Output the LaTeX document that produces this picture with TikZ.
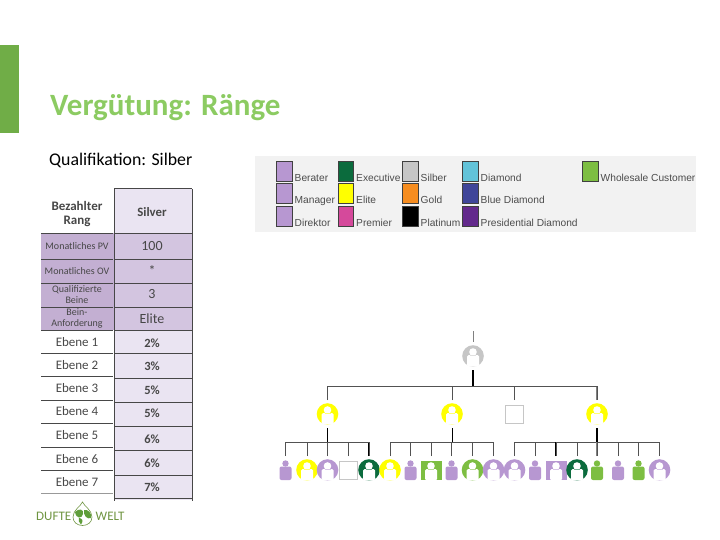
\documentclass[tikz,border=0pt]{standalone}
\usepackage{fontspec}
\setmainfont{Carlito}
\newfontfamily\legendfont{Liberation Sans}
\usetikzlibrary{calc}
\definecolor{PBar}{HTML}{70AD47}
\definecolor{PTitle}{HTML}{8CCB62}
\definecolor{PLegendBg}{HTML}{F2F2F2}
\definecolor{PBerater}{HTML}{B797D1}
\definecolor{PExec}{HTML}{0B6B3D}
\definecolor{PSilber}{HTML}{C6C6C6}
\definecolor{PDiamond}{HTML}{62C3D9}
\definecolor{PWhole}{HTML}{7DBE42}
\definecolor{PElite}{HTML}{FFFF00}
\definecolor{PGold}{HTML}{F68D20}
\definecolor{PBlue}{HTML}{3F4599}
\definecolor{PPremier}{HTML}{D5499B}
\definecolor{PPres}{HTML}{63298C}
\definecolor{PRowL}{HTML}{C3AFD2}
\definecolor{PRowR}{HTML}{D3C5E0}
\definecolor{PRowT}{HTML}{EAE4F2}
\definecolor{PLogo}{HTML}{6E9440}
\definecolor{PGlobe}{HTML}{5F9E3A}
\tikzset{
	iconbox/.style={minimum size=28pt, inner sep=0pt, outer sep=0pt},
	swatch/.style={draw=black!75, line width=0.6pt, minimum width=15.5pt, minimum height=20pt, inner sep=0pt, anchor=north west},
	legendtext/.style={font=\legendfont\fontsize{10.2}{11}\selectfont, text=black!70, anchor=base west, inner sep=0pt},
	tabletext/.style={text=black!72, align=center, inner sep=0pt},
	treeline/.style={draw=black!68, line width=1pt},
	treethick/.style={draw=black, line width=1.6pt},
	treegray/.style={draw=black!50, line width=1.5pt}
}
\newcommand{\bust}[3]{%
	\fill[white, rounded corners=1.5pt] ({#1-6},{#2-1}) rectangle ({#1+6},{#2+10.5});
	\fill[white] (#1,{#2-4}) circle (3.8);
	\draw[#3!55, line width=0.5pt] ({#1-3},{#2-1}) -- ({#1+3},{#2-1});
}
\newcommand{\circicon}[4]{%
	\node[iconbox] (#1) at (#2,#3) {};
	\fill[#4] (#2,#3) circle (10.8);
	\bust{#2}{#3}{#4}
}
\newcommand{\personicon}[4]{%
	\node[iconbox] (#1) at (#2,#3) {};
	\fill[#4] (#2,{#3-6.5}) circle (3.2);
	\fill[#4, rounded corners=2pt] ({#2-6},{#3-3.5}) rectangle ({#2+6},{#3+10});
}
\newcommand{\squareicon}[4]{%
	\node[iconbox] (#1) at (#2,#3) {};
	\fill[#4] ({#2-10.5},{#3-9.5}) rectangle ({#2+10.5},{#3+10});
	\bust{#2}{#3}{#4}
}
\newcommand{\blankicon}[4]{%
	\node[iconbox] (#1) at (#2,#3) {};
	\draw[#4, line width=1pt] ({#2-9},{#3-9}) rectangle ({#2+9},{#3+9});
}
\begin{document}
\begin{tikzpicture}[x=1pt, y=-1pt]
	\useasboundingbox (0,0) rectangle (720,540);

	% -- Side bar and headings ------------------------------------
	\fill[PBar] (0,45) rectangle (19,133);
	\node[anchor=base west, inner sep=0pt, text=PTitle, font=\bfseries\fontsize{31}{33}\selectfont] (title) at (50,116) {Vergütung: Ränge};
	\node[anchor=base west, inner sep=0pt, font=\fontsize{17.8}{19}\selectfont] (subtitle) at (49,166) {Qualifikation: Silber};

	% -- Legend ---------------------------------------------------
	\fill[PLegendBg] (255,156) rectangle (696,232);
	\foreach \sx/\sy/\scol/\stext in {
		276/161/PBerater/Berater, 276/183.5/PBerater/Manager, 276/206/PBerater/Direktor,
		337.5/161/PExec/Executive, 337.5/183.5/PElite/Elite, 337.5/206/PPremier/Premier,
		402/161/PSilber/Silber, 402/183.5/PGold/Gold, 402/206/black/Platinum,
		462/161/PDiamond/Diamond, 462/183.5/PBlue/Blue Diamond, 462/206/PPres/Presidential Diamond,
		582/161/PWhole/Wholesale Customer}{%
		\node[swatch, fill=\scol] (sw\stext) at (\sx,\sy) {};
		\node[legendtext] (lb\stext) at ($(\sx,\sy)+(18.5,20.5)$) {\stext};
	}

	% -- Table ----------------------------------------------------
	\fill[PRowT] (114,189) rectangle (192,233);
	\fill[PRowR] (114,233) rectangle (192,330);
	\fill[PRowL] (41,233) rectangle (114,330);
	\fill[PRowT] (114,330) rectangle (192,500);
	\node[tabletext, font=\bfseries\fontsize{13}{14.5}\selectfont] (headRang) at (77,214) {Bezahlter\\Rang};
	\node[tabletext, font=\bfseries\fontsize{12.8}{14}\selectfont] (headSilver) at (152,212) {Silver};
	\foreach \ty/\tleft/\tval/\tname in {
		246/Monatliches PV/100/pv, 271/Monatliches OV/*/ov,
		294.5/{Qualifizierte\\Beine}/3/beine, 318.5/{Bein-\\Anforderung}/Elite/anf}{%
		\node[tabletext, font=\fontsize{10}{10.5}\selectfont] (l\tname) at (77,\ty) {\tleft};
		\node[tabletext, font=\fontsize{14}{15}\selectfont] (r\tname) at (152,\ty) {\tval};
	}
	\foreach \n/\ly/\ry/\tval in {1/342/343/2, 2/365.5/366.5/3, 3/388/390/5, 4/411/413.5/5, 5/435.5/439/6, 6/459/463/6, 7/482/487.5/7}{%
		\node[tabletext, font=\fontsize{13}{14}\selectfont] (eb\n) at (77,\ly) {Ebene \n};
		\node[tabletext, font=\bfseries\fontsize{12.5}{13.5}\selectfont] (val\n) at (152,\ry) {\tval\%};
	}
	% rules of the two columns
	\foreach \ly in {233,259,283,307,330,353,376,400,423,447,470}{%
		\draw[black!72, line width=1pt] (41,\ly) -- (113,\ly);
	}
	\draw[black!40, line width=0.6pt] (41,493) -- (113,493);
	\foreach \ry in {189,233,259,283,307,330,353,378,402,426,450,475,498}{%
		\draw[black!72, line width=1pt] (114,\ry) -- (192,\ry);
	}
	\draw[black!72, line width=1pt] (114,189) -- (114,501);
	\draw[black!72, line width=1pt] (192,189) -- (192,501);

	% -- Logo -----------------------------------------------------
	\node[anchor=base west, inner sep=0pt, text=PLogo, font=\fontsize{13}{14}\selectfont] (logoL) at (36,520) {DUFTE};
	\node[anchor=base west, inner sep=0pt, text=PLogo, font=\fontsize{13}{14}\selectfont] (logoR) at (95.5,520) {WELT};
	\draw[PLogo, line width=0.6pt] (82.5,502) .. controls (84,506) and (92,510) .. (92,517)
		.. controls (92,522) and (88,525.5) .. (82.5,525.5)
		.. controls (77,525.5) and (73,522) .. (73,517)
		.. controls (73,510) and (81,506) .. (82.5,502) -- cycle;
	\fill[PGlobe] (75,512) .. controls (79,508) and (84,509) .. (83,514) .. controls (82,519) and (76,519) .. (75,512) -- cycle;
	\fill[PGlobe] (84,510) .. controls (88,509) and (92,513) .. (91,518) .. controls (87,520) and (83,515) .. (84,510) -- cycle;
	\fill[PGlobe] (79,518) .. controls (82,518) and (84,521) .. (81,524.5) .. controls (79,523) and (78,520) .. (79,518) -- cycle;

	% -- Tree: top and second level -------------------------------
	\circicon{silver}{473}{356}{PSilber}
	\circicon{eliteA}{327.5}{414}{PElite}
	\circicon{eliteB}{452}{414}{PElite}
	\blankicon{blankA}{514.5}{414}{PSilber}
	\circicon{eliteC}{597}{414}{PElite}
	\coordinate (topend) at (473,331);
	\draw[treegray, line width=1pt] (topend) -- (silver.north);
	\draw[treethick, line width=1.2pt] (silver.south) -- (silver.south |- 0,386);
	\foreach \child/\dropstyle in {eliteA/treethick, eliteB/treeline, blankA/treegray, eliteC/treegray}{%
		\draw[\dropstyle] (\child.north) -- (\child.north |- 0,386);
		\draw[treeline] (silver.south |- 0,386) -| (\child.north);
	}

	% -- Tree: leaves ---------------------------------------------
	\personicon{leafA}{285.5}{470}{PBerater}
	\circicon{leafB}{307}{470}{PElite}
	\circicon{leafC}{327.5}{470}{PBerater}
	\blankicon{leafD}{348}{470}{PSilber}
	\circicon{leafE}{369}{470}{PExec}
	\circicon{leafF}{390}{470}{PElite}
	\personicon{leafG}{410.5}{470}{PBerater}
	\squareicon{leafH}{431}{470}{PWhole}
	\personicon{leafI}{451.5}{470}{PBerater}
	\circicon{leafJ}{472.5}{470}{PWhole}
	\circicon{leafK}{493.5}{470}{PBerater}
	\circicon{leafL}{514.5}{470}{PBerater}
	\personicon{leafM}{535}{470}{PBerater}
	\squareicon{leafN}{556}{470}{PBerater}
	\circicon{leafO}{577}{470}{PExec}
	\personicon{leafP}{597}{470}{PWhole}
	\personicon{leafQ}{618}{470}{PBerater}
	\personicon{leafR}{638.5}{470}{PWhole}
	\circicon{leafS}{659.5}{470}{PBerater}

	\draw[treethick] (eliteA.south) -- (eliteA.south |- 0,442);
	\foreach \leaf/\dropstyle in {leafA/treegray, leafB/treeline, leafC/treethick, leafD/treeline, leafE/treethick}{%
		\draw[\dropstyle] (\leaf.north) -- (\leaf.north |- 0,442);
		\draw[treeline] (eliteA.south |- 0,442) -| (\leaf.north);
	}
	\draw[treeline, draw=black] (eliteB.south) -- (eliteB.south |- 0,442);
	\foreach \leaf/\dropstyle in {leafF/treeline, leafG/treegray, leafH/treeline, leafI/treeline, leafJ/treeline, leafK/treeline}{%
		\draw[\dropstyle] (\leaf.north) -- (\leaf.north |- 0,442);
		\draw[treeline] (eliteB.south |- 0,442) -| (\leaf.north);
	}
	\draw[treethick, line width=2.4pt] (eliteC.south) -- (eliteC.south |- 0,442);
	\foreach \leaf/\dropstyle in {leafL/treegray, leafM/treeline, leafN/treethick, leafO/treeline, leafP/treegray, leafQ/treeline, leafR/treeline, leafS/treeline}{%
		\draw[\dropstyle] (\leaf.north) -- (\leaf.north |- 0,442);
		\draw[treeline] (eliteC.south |- 0,442) -| (\leaf.north);
	}
\end{tikzpicture}
\end{document}
